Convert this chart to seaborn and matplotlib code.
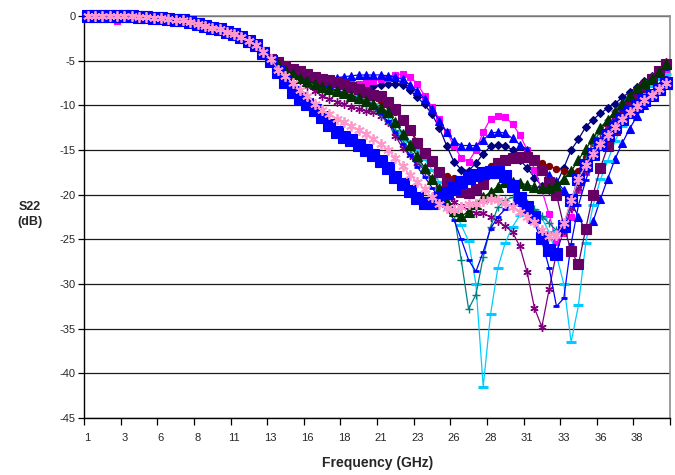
import matplotlib
matplotlib.use("Agg")
import matplotlib.pyplot as plt
import numpy as np
import pandas as pd
import seaborn as sns

# VNA sweep: 80 points from 1 GHz, 0.495 GHz step
freq_ghz = np.round(1 + 0.495 * np.arange(80), 3)
tick_labels = ["1", "3", "6", "8", "11", "13", "16", "18", "21", "23",
               "26", "28", "31", "33", "36", "38"]
y_ticks = [0, -5, -10, -15, -20, -25, -30, -35, -40, -45]

# all curves sit on top of each other below ~13 GHz
low_band = [0, 0, 0, 0, 0, 0, 0, -0.1, -0.1, -0.2,
            -0.2, -0.3, -0.4, -0.5, -0.7, -0.9, -1.1, -1.3, -1.5, -1.8,
            -2.0, -2.4, -2.8, -3.3, -4.0, -4.8]

s22_navy = low_band + [
    -5.3, -5.9, -6.3, -6.7, -7.0, -7.2, -7.4, -7.5, -7.6, -7.7,
    -7.8, -7.9, -7.9, -7.8, -7.7, -7.6, -7.6, -7.7, -8.3, -9.1,
    -9.9, -11.0, -12.5, -14.5, -16.3, -17.2, -17.3, -16.5, -15.4, -14.6,
    -14.4, -14.5, -15.0, -16.1, -17.0, -18.1, -19.0, -19.5, -18.8, -17.0,
    -15.0, -13.8, -12.4, -11.6, -10.9, -10.3, -9.8, -9.1, -8.5, -7.9,
    -7.3, -6.7, -6.0, -5.4]

s22_magenta = low_band[:4] + [-0.6] + low_band[5:] + [
    -5.3, -5.9, -6.3, -6.6, -6.9, -7.1, -7.3, -7.4, -7.5, -7.6,
    -7.6, -7.6, -7.5, -7.3, -7.1, -6.9, -6.6, -6.5, -6.8, -7.6,
    -8.9, -10.2, -11.5, -13.0, -14.5, -15.9, -16.3, -15.0, -13.0, -11.5,
    -11.2, -11.3, -12.1, -13.3, -15.0, -17.2, -19.5, -22.2, -25.3, -24.3,
    -22.5, -19.5, -17.5, -15.5, -14.0, -12.6, -11.4, -10.4, -9.5, -8.7,
    -8.0, -7.3, -6.7, -6.1]

s22_blue_tri = low_band + [
    -5.3, -5.9, -6.3, -6.6, -6.8, -6.9, -7.0, -7.0, -6.9, -6.8,
    -6.7, -6.6, -6.6, -6.6, -6.6, -6.7, -6.8, -7.1, -7.7, -8.4,
    -9.3, -10.4, -11.7, -13.0, -14.0, -14.5, -14.5, -14.5, -13.9, -13.1,
    -13.0, -13.1, -13.7, -14.4, -15.0, -16.0, -17.0, -17.8, -18.5, -19.5,
    -20.8, -22.5, -24.0, -23.0, -20.5, -18.2, -16.0, -14.2, -12.6, -11.2,
    -10.0, -8.9, -7.8, -6.8]

s22_sky = low_band + [
    -5.3, -5.8, -6.2, -6.5, -6.8, -7.0, -7.2, -7.5, -7.8, -8.1,
    -8.5, -8.9, -9.4, -9.9, -10.5, -11.2, -12.0, -13.0, -14.0, -15.0,
    -16.0, -17.2, -18.6, -20.2, -21.8, -23.4, -25.2, -30.0, -41.5, -33.4,
    -28.2, -25.4, -23.6, -22.3, -21.5, -21.7, -22.6, -24.2, -26.8, -30.0,
    -36.5, -32.4, -25.4, -21.2, -18.3, -16.2, -14.0, -12.3, -10.8, -9.6,
    -8.6, -7.8, -7.1, -6.5]

s22_purple_star = low_band + [
    -5.5, -6.0, -6.6, -7.2, -7.8, -8.4, -8.9, -9.3, -9.6, -9.9,
    -10.2, -10.4, -10.6, -10.8, -11.2, -11.9, -13.4, -14.8, -15.6, -16.4,
    -17.3, -18.3, -19.2, -20.0, -20.8, -21.3, -21.7, -22.0, -22.1, -22.5,
    -23.0, -23.5, -24.2, -25.8, -28.7, -32.7, -34.8, -30.6, -26.5, -24.0,
    -21.5, -19.2, -17.2, -15.3, -13.8, -12.4, -11.2, -10.1, -9.2, -8.3,
    -7.5, -6.8, -6.0, -5.2]

s22_maroon = low_band + [
    -5.3, -5.9, -6.3, -6.6, -6.9, -7.1, -7.3, -7.5, -7.7, -7.9,
    -8.2, -8.5, -8.8, -9.1, -9.5, -10.0, -10.7, -11.6, -12.7, -14.0,
    -15.3, -16.4, -17.3, -17.9, -18.1, -18.2, -18.0, -17.7, -17.2, -16.8,
    -16.4, -16.1, -16.0, -16.0, -16.0, -16.1, -16.4, -16.8, -17.1, -17.3,
    -17.5, -17.3, -15.8, -14.2, -12.9, -11.8, -10.8, -9.9, -9.0, -8.2,
    -7.5, -6.8, -6.0, -5.2]

s22_teal = low_band + [
    -5.4, -6.0, -6.4, -6.8, -7.2, -7.5, -7.8, -8.1, -8.4, -8.7,
    -9.0, -9.4, -9.8, -10.3, -11.0, -11.8, -12.8, -13.9, -15.0, -16.1,
    -17.2, -18.2, -19.2, -20.3, -22.0, -27.3, -32.8, -31.2, -27.0, -23.6,
    -21.4, -20.6, -20.3, -20.3, -20.9, -21.6, -22.4, -23.2, -24.0, -23.4,
    -21.0, -18.3, -16.0, -14.2, -12.8, -11.6, -10.6, -9.7, -8.9, -8.2,
    -7.5, -6.8, -6.1, -5.5]

s22_blue_dash = low_band + [
    -5.4, -6.0, -6.4, -6.8, -7.1, -7.4, -7.7, -8.0, -8.3, -8.6,
    -8.9, -9.3, -9.7, -10.2, -10.9, -11.8, -13.0, -14.3, -15.6, -16.9,
    -18.0, -19.2, -20.4, -21.6, -22.8, -25.0, -27.3, -28.6, -26.4, -23.8,
    -22.5, -21.6, -21.1, -21.2, -21.9, -23.2, -25.2, -28.2, -32.5, -31.6,
    -25.5, -21.2, -18.4, -16.0, -14.2, -12.8, -11.6, -10.5, -9.5, -8.6,
    -7.8, -7.1, -6.5, -5.9]

s22_plum = low_band + [
    -5.2, -5.6, -5.9, -6.2, -6.5, -6.8, -7.0, -7.2, -7.4, -7.6,
    -7.9, -8.2, -8.5, -8.8, -9.0, -9.6, -10.4, -11.6, -12.8, -14.2,
    -15.3, -16.2, -17.5, -18.6, -19.3, -19.7, -19.8, -19.4, -18.8, -17.6,
    -16.5, -16.1, -15.9, -15.8, -15.8, -16.1, -17.2, -18.6, -20.0, -23.5,
    -26.3, -27.8, -23.8, -20.0, -17.0, -14.6, -12.8, -11.3, -10.0, -8.9,
    -7.9, -7.0, -6.2, -5.4]

s22_green = low_band + [
    -5.4, -6.0, -6.5, -6.9, -7.3, -7.6, -7.9, -8.2, -8.4, -8.6,
    -8.9, -9.2, -9.5, -9.9, -10.3, -10.8, -11.9, -13.2, -14.4, -15.7,
    -17.0, -18.2, -19.4, -20.8, -21.8, -22.4, -21.9, -21.0, -20.3, -19.7,
    -19.1, -18.6, -18.6, -18.7, -18.9, -19.1, -19.3, -19.3, -18.9, -18.2,
    -17.4, -16.1, -14.9, -13.7, -12.5, -11.6, -10.7, -9.9, -9.0, -8.1,
    -7.5, -7.0, -6.3, -5.4]

s22_blue_sq = low_band[:24] + [-4.1, -5.0,
    -6.3, -7.4, -8.5, -9.2, -9.8, -10.5, -11.3, -12.2, -13.0, -13.5,
    -13.9, -14.4, -15.0, -15.6, -16.2, -17.0, -18.0, -18.8, -19.6, -20.4,
    -20.9, -20.9, -20.4, -19.8, -19.2, -18.6, -18.1, -17.8, -17.6, -17.5,
    -17.5, -17.9, -19.0, -20.4, -21.4, -22.5, -24.8, -26.2, -26.6, -23.5,
    -20.6, -18.2, -16.7, -15.4, -14.3, -13.3, -12.4, -11.5, -10.8, -10.1,
    -9.4, -8.8, -8.2, -7.5]

s22_pink = low_band + [
    -6.0, -6.7, -7.5, -8.3, -9.0, -9.8, -10.5, -11.0, -11.5, -11.9,
    -12.3, -12.8, -13.2, -13.8, -14.3, -15.0, -15.9, -16.8, -17.8, -18.6,
    -19.4, -20.3, -21.0, -21.5, -21.7, -21.4, -21.1, -21.0, -20.7, -20.5,
    -20.6, -20.9, -21.4, -21.9, -22.5, -23.1, -24.0, -24.6, -24.5, -23.2,
    -20.6, -18.2, -16.7, -15.4, -14.3, -13.3, -12.4, -11.5, -10.8, -10.1,
    -9.4, -8.8, -8.2, -7.5]

# name, values, colour, marker, size, edge width (drawn in this order)
series = [
    ("navy", s22_navy, "#000080", "D", 3.6, 0.8),
    ("magenta", s22_magenta, "#FF00FF", "s", 5.0, 0.8),
    ("blue_tri", s22_blue_tri, "#0000FF", "^", 5.5, 0.8),
    ("sky", s22_sky, "#00CCFF", "_", 6.5, 2.2),
    ("purple_star", s22_purple_star, "#800080", (6, 2, 0), 6.0, 1.0),
    ("maroon", s22_maroon, "#800000", "o", 4.5, 0.8),
    ("teal", s22_teal, "#008080", "+", 6.0, 1.0),
    ("blue_dash", s22_blue_dash, "#0000FF", "_", 5.0, 2.0),
    ("plum", s22_plum, "#660066", "s", 6.5, 0.8),
    ("green", s22_green, "#003300", "^", 6.5, 0.8),
    ("blue_sq", s22_blue_sq, "#0000FF", "s", 8.0, 0.8),
    ("pink", s22_pink, "#FF99CC", (6, 2, 0), 7.5, 1.3),
]
for name, vals, *_ in series:
    assert len(vals) == len(freq_ghz), (name, len(vals))

sns.set_style("white")
plt.rcParams["font.family"] = ["Liberation Sans", "DejaVu Sans"]

fig = plt.figure(figsize=(6.75, 4.75), dpi=100)
ax = fig.add_axes([84 / 675, 1 - 418 / 475, 586 / 675, 402 / 475])

for name, vals, colour, marker, ms, mew in series:
    sns.lineplot(x=freq_ghz, y=vals, ax=ax, color=colour, linewidth=0.9,
                 marker=marker, markersize=ms, markeredgewidth=mew,
                 markeredgecolor=colour, markerfacecolor=colour,
                 estimator=None, sort=False, legend=False, clip_on=False,
                 zorder=3)

half = 0.495 / 2
ax.set_xlim(freq_ghz[0] - half, freq_ghz[-1] + half)
ax.set_ylim(-45, 0)

# category-style axis: tick marks between groups, labels under the groups
ax.set_xticks(freq_ghz[0] - half + 0.495 * 5 * np.arange(17))
ax.set_xticklabels([])
ax.set_xticks(freq_ghz[::5], minor=True)
ax.set_xticklabels(tick_labels, minor=True)
ax.tick_params(axis="x", which="major", direction="out", length=5,
               width=0.9, color="black", bottom=True)
ax.tick_params(axis="x", which="minor", length=0, pad=11, labelsize=8)

ax.set_yticks(y_ticks)
ax.set_yticklabels([str(v) for v in y_ticks])
ax.tick_params(axis="y", direction="out", length=4, width=0.9,
               color="black", left=True, labelsize=8, pad=2)

ax.set_axisbelow(True)
ax.yaxis.grid(True, color="#1a1a1a", linewidth=0.9)
ax.xaxis.grid(False)

for side in ["left", "bottom"]:
    ax.spines[side].set_color("black")
    ax.spines[side].set_linewidth(1.0)
for side in ["top", "right"]:
    ax.spines[side].set_color("#8c8c8c")
    ax.spines[side].set_linewidth(1.2)

ax.set_xlabel("")
ax.set_ylabel("")
fig.text(0.044, 0.548, "S22\n(dB)", ha="center", va="center",
         fontsize=9, fontweight="bold", linespacing=1.3)
fig.text(0.559, 0.026, "Frequency (GHz)", ha="center", va="center",
         fontsize=10, fontweight="bold")

fig.savefig("out.png", dpi=100, facecolor="white")
